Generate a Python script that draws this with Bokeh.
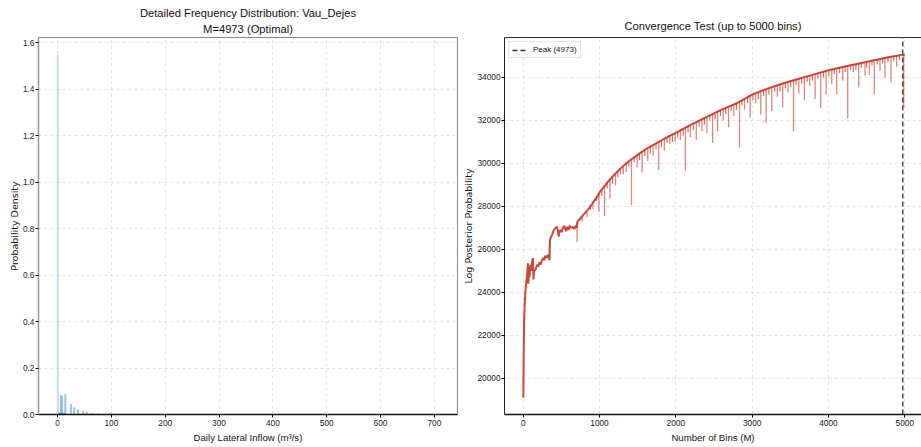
import numpy as np
from bokeh.plotting import figure
from bokeh.layouts import row
from bokeh.models import Range1d, LinearAxis, FixedTicker, Legend, LegendItem, NumeralTickFormatter, Title
from bokeh.embed import file_html
from bokeh.resources import INLINE

HFONT = "Liberation Sans"   # horizontal texts
VFONT = "DejaVu Sans"       # vertical axis labels

# ---------------- data: left histogram ----------------
hist_center = [0.5, 6.5, 8.5, 14.5, 24.7, 31.0, 38.0, 47.5, 54.0, 64.0, 76.0, 99.0]
hist_density = [1.545, 0.081, 0.078, 0.086, 0.043, 0.029, 0.021, 0.014, 0.010, 0.004, 0.003, 0.003]
base_center = [2.0, 4.0, 6.0, 8.0, 10.0, 12.0, 14.0]
base_density = [0.007, 0.008, 0.007, 0.008, 0.007, 0.007, 0.006]

# ---------------- data: right convergence curve ----------------
env_m = [2, 6, 12, 20, 30, 42, 55, 62, 68, 75, 82, 95, 105, 118, 128, 135, 142, 155,
         170, 185, 200, 215, 230, 245, 260, 275, 290, 305, 320, 335, 345, 350, 356,
         380, 400, 425, 445, 465, 475, 490, 505, 520, 540, 560, 578, 595, 610, 630,
         650, 670, 690, 700, 712, 750, 800, 850, 900, 950, 1000, 1100, 1200, 1300,
         1400, 1500, 1600, 1700, 1800, 1900, 2000, 2200, 2400, 2600, 2800, 3000,
         3200, 3400, 3600, 3800, 4000, 4200, 4400, 4600, 4800, 4900, 4973, 4999]
env_v = [19100, 21000, 22600, 23500, 24100, 24500, 25000, 25350, 24400, 25200, 24700,
         25300, 25000, 25450, 25600, 24600, 25050, 25000, 25150, 25300, 25200, 25400,
         25300, 25500, 25600, 25500, 25700, 25600, 25750, 25650, 25500, 26400, 26500,
         26700, 26900, 27000, 27050, 26600, 26850, 26900, 26800, 27000, 27100, 26850,
         27050, 26900, 27100, 27000, 27050, 26950, 27100, 27000, 27300, 27450, 27650,
         27850, 28100, 28350, 28650, 29100, 29500, 29850, 30150, 30400, 30650, 30850,
         31050, 31250, 31420, 31800, 32150, 32500, 32800, 33200, 33480, 33720, 33930,
         34130, 34330, 34500, 34650, 34800, 34950, 35010, 35060, 35020]

# long dips (read individually)
dip_m = [706, 837, 913, 992, 1066, 1136, 1210, 1275, 1350, 1419, 1493, 1558, 1632, 1702,
         1776, 1850, 1920, 1990, 2060, 2125, 2190, 2268, 2342, 2407, 2482, 2547, 2620,
         2691, 2760, 2834, 2900, 2974, 3045, 3113, 3183, 3257, 3330, 3401, 3470, 3542,
         3611, 3685, 3755, 3825, 3899, 3969, 4043, 4108, 4187, 4252, 4326, 4396, 4479,
         4536, 4601, 4675, 4740, 4819, 4893, 4985]
dip_top = [27250, 27750, 28150, 28600, 28950, 29200, 29500, 29750, 30000, 30200, 30400,
           30550, 30700, 30850, 31000, 31150, 31300, 31400, 31500, 31650, 31780, 31920,
           32050, 32150, 32300, 32400, 32520, 32650, 32750, 32880, 33000, 33150, 33250,
           33350, 33450, 33550, 33640, 33720, 33800, 33870, 33940, 34010, 34080, 34150,
           34220, 34300, 34360, 34420, 34490, 34540, 34600, 34640, 34710, 34750, 34800,
           34860, 34900, 34960, 35000, 35050]
dip_low = [26350, 27510, 27890, 27740, 27540, 28355, 28970, 29500, 29600, 28050, 29810,
           29580, 30100, 30360, 29690, 30600, 30900, 31000, 31100, 29660, 31220, 31100,
           31500, 31400, 30950, 31500, 32000, 31685, 32200, 30747, 32500, 32120, 32800,
           32280, 31890, 32440, 33100, 32625, 33300, 31500, 33250, 32940, 33600, 33000,
           32590, 33190, 33690, 33220, 33845, 32090, 34235, 33530, 34080, 34100, 33220,
           34315, 34000, 33765, 34500, 32600]

# short jagged dips along the upper edge
tick_m = [770, 880, 960, 1030, 1100, 1170, 1240, 1310, 1385, 1455, 1525, 1595, 1665,
          1740, 1810, 1885, 1955, 2025, 2095, 2160, 2230, 2305, 2375, 2445, 2515, 2585,
          2655, 2725, 2795, 2865, 2940, 3010, 3080, 3150, 3220, 3295, 3365, 3435, 3505,
          3575, 3650, 3720, 3790, 3860, 3935, 4005, 4075, 4145, 4220, 4290, 4360, 4430,
          4500, 4570, 4640, 4710, 4780, 4855, 4930]
tick_top = [27550, 28050, 28500, 28800, 29100, 29350, 29600, 29850, 30100, 30300, 30450,
            30600, 30750, 30900, 31050, 31200, 31350, 31450, 31600, 31700, 31850, 31980,
            32100, 32250, 32350, 32450, 32600, 32700, 32820, 32950, 33100, 33200, 33300,
            33400, 33500, 33600, 33680, 33760, 33840, 33900, 33980, 34050, 34120, 34190,
            34260, 34330, 34390, 34450, 34520, 34570, 34620, 34680, 34720, 34780, 34830,
            34880, 34930, 34980, 35030]
tick_low = [27300, 27850, 28250, 28500, 28850, 29050, 29350, 29500, 29850, 30050, 30150,
            30350, 30450, 30650, 30750, 30950, 31000, 31200, 31300, 31450, 31550, 31700,
            31800, 32000, 32050, 32200, 32300, 32450, 32500, 32700, 32800, 32950, 33000,
            33150, 33200, 33350, 33350, 33500, 33550, 33650, 33700, 33800, 33850, 33950,
            34000, 34050, 34150, 34200, 34250, 34350, 34350, 34450, 34450, 34550, 34600,
            34650, 34700, 34750, 34800]

peak_m = 4973
peak_label = "Peak (4973)"

left_xticks = [0, 100, 200, 300, 400, 500, 600, 700]
left_yticks = [0.0, 0.2, 0.4, 0.6, 0.8, 1.0, 1.2, 1.4, 1.6]
right_xticks = [0, 1000, 2000, 3000, 4000, 5000]
right_yticks = [20000, 22000, 24000, 26000, 28000, 30000, 32000, 34000]

GRID = "#dcdcdc"
RED = "#c0392b"


def style_axes(p, xticks, yticks):
    for ax in (p.xaxis[0], p.yaxis[0]):
        ax.major_label_text_font = HFONT
        ax.major_label_text_font_size = "8.3px"
        ax.major_label_text_color = "#222222"
        ax.axis_label_text_font_style = "normal"
        ax.axis_label_text_color = "#111111"
        ax.minor_tick_line_color = None
        ax.major_tick_in = 0
        ax.major_tick_out = 3
        ax.major_label_standoff = 2
        ax.axis_label_standoff = 3
    p.xaxis[0].axis_label_text_font = HFONT
    p.xaxis[0].axis_label_text_font_size = "9.6px"
    p.yaxis[0].axis_label_text_font = VFONT
    p.yaxis[0].axis_label_text_font_size = "9.5px"
    p.yaxis[0].axis_label_standoff = 0
    p.yaxis[0].major_label_standoff = 1
    p.xaxis[0].ticker = FixedTicker(ticks=xticks)
    p.yaxis[0].ticker = FixedTicker(ticks=yticks)
    p.xaxis[0].axis_line_color = "#111111"
    p.xaxis[0].axis_line_width = 1.5
    for g in (p.xgrid[0], p.ygrid[0]):
        g.grid_line_color = GRID
        g.grid_line_dash = "3 3"
        g.grid_line_width = 0.8


def make_title(text, standoff):
    return Title(text=text, align="center", text_font=HFONT, text_font_size="11.2px",
                 text_font_style="normal", text_color="#111111", standoff=standoff)


# ---------------- left figure ----------------
p1 = figure(width=460, height=447, x_range=Range1d(-35.4, 743), y_range=Range1d(0, 1.622),
            output_backend="svg", toolbar_location=None,
            min_border_left=38, min_border_right=3, min_border_top=37, min_border_bottom=33,
            x_axis_label="Daily Lateral Inflow (m³/s)", y_axis_label="Probability Density")
p1.title = make_title("Detailed Frequency Distribution: Vau_Dejes", 0)
p1.add_layout(make_title("M=4973 (Optimal)", 5), "above")
style_axes(p1, left_xticks, left_yticks)
p1.yaxis[0].formatter = NumeralTickFormatter(format="0.0")
p1.yaxis[0].axis_line_color = "#999999"
p1.yaxis[0].axis_line_width = 1.5
p1.outline_line_color = "#888888"
p1.outline_line_width = 1

p1.vbar(x=hist_center[:1], top=hist_density[:1], width=2.5, bottom=0,
        fill_color="#c6dcf0", line_color="#b5d0ea", line_width=0.5)
p1.vbar(x=hist_center[1:], top=hist_density[1:], width=2.0, bottom=0,
        fill_color="#cfe1f2", fill_alpha=0.8, line_color="#7fb0dc", line_width=0.8)
p1.vbar(x=base_center, top=base_density, width=2.0, bottom=0,
        fill_color="#3a7dc0", fill_alpha=0.8, line_color=None)

# ---------------- right figure ----------------
p2 = figure(width=461, height=447, x_range=Range1d(-245, 5219), y_range=Range1d(18321, 35857),
            output_backend="svg", toolbar_location=None,
            min_border_left=44, min_border_right=0, min_border_top=37, min_border_bottom=33,
            x_axis_label="Number of Bins (M)", y_axis_label="Log Posterior Probability")
p2.title = make_title("Convergence Test (up to 5000 bins)", 0)
style_axes(p2, right_xticks, right_yticks)
p2.yaxis[0].axis_line_color = "#222222"
p2.outline_line_color = None
top_axis = LinearAxis(major_tick_line_color=None, minor_tick_line_color=None,
                      major_label_text_font_size="0px", axis_line_color="#333333",
                      axis_line_width=1, major_label_standoff=0)
top_axis.major_label_text_color = None
p2.add_layout(top_axis, "above")

p2.segment(x0=dip_m, y0=dip_top, x1=dip_m, y1=dip_low, line_color=RED,
           line_alpha=0.6, line_width=1.3)
p2.segment(x0=tick_m, y0=tick_top, x1=tick_m, y1=tick_low, line_color=RED,
           line_alpha=0.75, line_width=1.2)
p2.line(env_m, env_v, line_color=RED, line_alpha=0.92, line_width=2.0)

vline = p2.line(x=[peak_m, peak_m], y=[18321, 35857], line_color="#333333",
                line_dash="5 3", line_width=1.3)
legend = Legend(items=[LegendItem(label=peak_label, renderers=[vline])],
                location="top_left", label_text_font=HFONT, label_text_font_size="8px",
                label_text_color="#111111",
                glyph_width=16, glyph_height=8, padding=3, spacing=0, margin=4,
                label_standoff=5, border_line_color="#cccccc", border_line_width=1,
                background_fill_alpha=0.9, label_height=8)
p2.add_layout(legend)

layout = row(p1, p2)
open("out.html", "w").write(file_html(layout, INLINE))
